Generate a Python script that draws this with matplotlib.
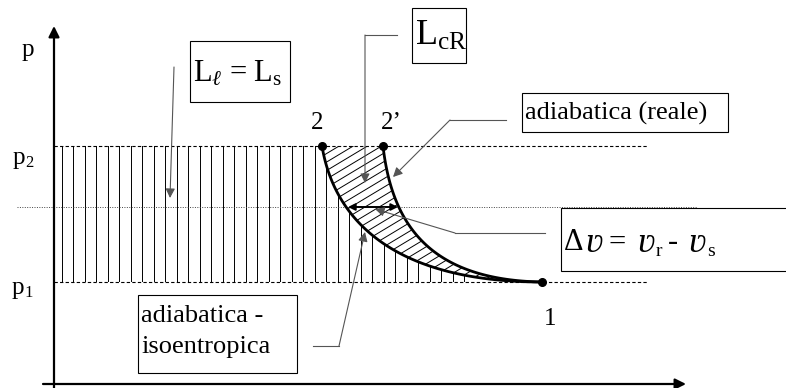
import numpy as np
import matplotlib.pyplot as plt
from matplotlib.path import Path
from matplotlib.patches import PathPatch, Rectangle

plt.rcParams['font.family'] = ['Liberation Serif', 'DejaVu Serif']
plt.rcParams['mathtext.fontset'] = 'custom'
plt.rcParams['mathtext.rm'] = 'Liberation Serif'
plt.rcParams['mathtext.it'] = 'Liberation Serif:italic'

# diagram coordinates (x = v, y = p, y grows downward like the picture)
p2_y = 146
p1_y = 282
mid_y = 207
axis_x = 54
axis_y = 384

state_names = ['2', '2’', '1']
state_x = [322, 383, 542]
state_y = [146, 146, 282]
label_x = [317, 391, 550]
label_y = [123, 123, 319]

# bezier control points
iso_ctrl = [(322, 146), (335, 225), (400, 282), (542, 282)]
real_ctrl = [(383, 146), (392, 225), (430, 280), (542, 282)]

dv_left = 348
dv_right = 398

vline_x = np.arange(61.7, 470, 11.5)


def bezier(ctrl, n=80):
    t = np.linspace(0, 1, n)[:, None]
    c = np.array(ctrl, dtype=float)
    return ((1 - t) ** 3 * c[0] + 3 * (1 - t) ** 2 * t * c[1]
            + 3 * (1 - t) * t ** 2 * c[2] + t ** 3 * c[3])


fig = plt.figure(figsize=(7.86, 3.88), dpi=100)
ax = fig.add_axes([0, 0, 1, 1])
ax.set_xlim(0, 786)
ax.set_ylim(388, 0)
ax.axis('off')

iso = bezier(iso_ctrl)
real = bezier(real_ctrl)

# area under the isoentropic curve (vertical hatching)
poly = np.vstack([[axis_x, p2_y], iso, [axis_x, p1_y]])
clip1 = PathPatch(Path(poly), fc='none', ec='none')
ax.add_patch(clip1)
for x in vline_x:
    l, = ax.plot([x, x], [p2_y - 2, p1_y + 2], color='black', lw=0.7)
    l.set_clip_path(clip1)

# area between the two curves (diagonal hatching)
poly2 = np.vstack([iso, real[::-1]])
clip2 = PathPatch(Path(poly2), fc='none', ec='none')
ax.add_patch(clip2)
for c in np.arange(140, 650, 8.5):
    xs = np.array([250, 600])
    l, = ax.plot(xs, c - 0.6 * (xs - 250), color='black', lw=0.7)
    l.set_clip_path(clip2)

# pressure levels
ax.plot([axis_x, 647], [p2_y, p2_y], color='black', lw=0.8, ls=(0, (3, 2)))
ax.plot([axis_x, 647], [p1_y, p1_y], color='black', lw=0.8, ls=(0, (3, 2)))
ax.plot([17, 697], [mid_y, mid_y], color='#444444', lw=0.7, ls=(0, (1, 1.5)))

# curves
ax.plot(iso[:, 0], iso[:, 1], color='black', lw=2)
ax.plot(real[:, 0], real[:, 1], color='black', lw=2)
ax.plot(state_x, state_y, 'o', color='black', ms=5.5)
for name, x, y in zip(state_names, label_x, label_y):
    ax.text(x, y, name, fontsize=18, ha='center', va='center')

# axes
ax.annotate('', xy=(axis_x, 26), xytext=(axis_x, 388),
            arrowprops=dict(arrowstyle='-|>', color='black', lw=1.6,
                            mutation_scale=16, shrinkA=0, shrinkB=0))
ax.annotate('', xy=(686, axis_y), xytext=(43, axis_y),
            arrowprops=dict(arrowstyle='-|>', color='black', lw=1.6,
                            mutation_scale=16, shrinkA=0, shrinkB=0))
ax.text(28, 50, 'p', fontsize=18, ha='center', va='center')
ax.text(13, 158, 'p', fontsize=18, ha='left', va='center')
ax.text(25, 163, '2', fontsize=12, ha='left', va='center')
ax.text(12, 288, 'p', fontsize=18, ha='left', va='center')
ax.text(24, 293, '1', fontsize=12, ha='left', va='center')

# delta v double arrow
ax.annotate('', xy=(dv_left, mid_y), xytext=(dv_right, mid_y),
            arrowprops=dict(arrowstyle='<|-|>', color='black', lw=1.4,
                            mutation_scale=10, shrinkA=0, shrinkB=0))

arr = dict(arrowstyle='-|>', color='black', lw=0.8, mutation_scale=14,
           shrinkA=0, shrinkB=0)
grey = '#555555'

# L_l = L_s box
ax.add_patch(Rectangle((190, 41), 100, 61, fc='white', ec='black', lw=0.8))
ax.text(193, 73, r'L$_{\ell}$ = L$_{\mathrm{s}}$', fontsize=22, va='center')
ax.annotate('', xy=(170, 198), xytext=(174, 67), arrowprops=dict(arr, color=grey))

# L_cR box
ax.add_patch(Rectangle((412, 8), 54, 55, fc='white', ec='black', lw=0.8))
ax.text(415, 36, r'L$_{\mathrm{cR}}$', fontsize=26, va='center')
ax.plot([365, 397], [35, 35], color=grey, lw=0.8)
ax.annotate('', xy=(365, 183), xytext=(365, 35), arrowprops=dict(arr, color=grey))

# adiabatica (reale) box
ax.add_patch(Rectangle((522, 93), 206, 39, fc='white', ec='black', lw=0.8))
ax.text(525, 113, 'adiabatica (reale)', fontsize=19, va='center')
ax.plot([506, 450], [120, 120], color=grey, lw=0.8)
ax.annotate('', xy=(393, 177), xytext=(450, 120), arrowprops=dict(arr, color=grey))

# delta v box
ax.add_patch(Rectangle((561, 208), 240, 63, fc='white', ec='black', lw=0.8,
                       clip_on=True))
ax.text(564, 243, 'Δ', fontsize=22, va='center')
ax.text(585, 243, 'ʋ', fontsize=26, style='italic', va='center')
ax.text(608, 243, '=', fontsize=22, va='center')
ax.text(637, 243, 'ʋ', fontsize=26, style='italic', va='center')
ax.text(656, 251, 'r', fontsize=14, va='center')
ax.text(668, 243, '-', fontsize=22, va='center')
ax.text(688, 243, 'ʋ', fontsize=26, style='italic', va='center')
ax.text(707, 251, 's', fontsize=14, va='center')
ax.plot([545, 455], [233, 233], color=grey, lw=0.8)
ax.annotate('', xy=(375, 209), xytext=(455, 233), arrowprops=dict(arr, color=grey))

# adiabatica isoentropica box
ax.add_patch(Rectangle((138, 295), 159, 78, fc='white', ec='black', lw=0.8))
ax.text(141, 316, 'adiabatica -', fontsize=19, va='center')
ax.text(141, 347, 'isoentropica', fontsize=19, va='center')
ax.plot([313, 339], [346, 346], color=grey, lw=0.8)
ax.annotate('', xy=(365, 232), xytext=(339, 346), arrowprops=dict(arr, color=grey))

fig.savefig('out.png', dpi=100)
